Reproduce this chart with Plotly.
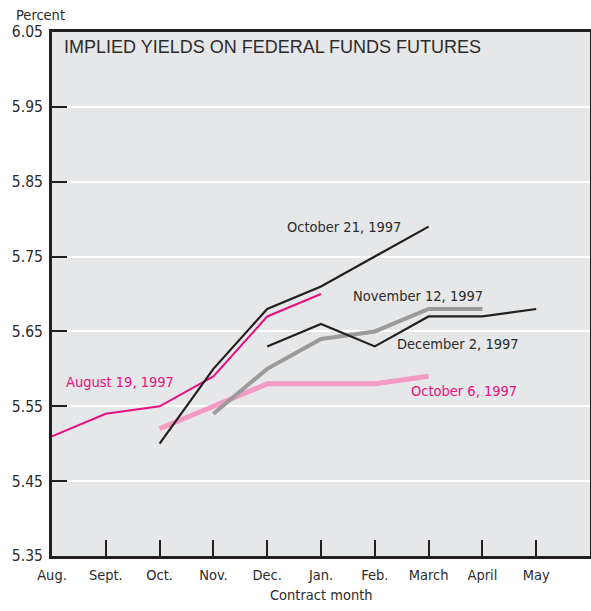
import plotly.graph_objects as go

months = ["Aug.", "Sept.", "Oct.", "Nov.", "Dec.", "Jan.", "Feb.", "March", "April", "May"]
month_pos = list(range(len(months)))

aug19_x = ["Aug.", "Sept.", "Oct.", "Nov.", "Dec.", "Jan."]
aug19_y = [5.51, 5.54, 5.55, 5.59, 5.67, 5.70]

oct6_x = ["Oct.", "Nov.", "Dec.", "Jan.", "Feb.", "March"]
oct6_y = [5.52, 5.55, 5.58, 5.58, 5.58, 5.59]

oct21_x = ["Oct.", "Nov.", "Dec.", "Jan.", "Feb.", "March"]
oct21_y = [5.50, 5.60, 5.68, 5.71, 5.75, 5.79]

nov12_x = ["Nov.", "Dec.", "Jan.", "Feb.", "March", "April"]
nov12_y = [5.54, 5.60, 5.64, 5.65, 5.68, 5.68]

dec2_x = ["Dec.", "Jan.", "Feb.", "March", "April", "May"]
dec2_y = [5.63, 5.66, 5.63, 5.67, 5.67, 5.68]

y_ticks = [5.35, 5.45, 5.55, 5.65, 5.75, 5.85, 5.95, 6.05]

idx = {m: i for i, m in enumerate(months)}

MAGENTA = "#e5127f"
PINK = "#f39bc3"
GREY = "#9a9a9a"
BLACK = "#231f20"
TXT = "#2b2b2b"
FONT = "DejaVu Sans Condensed, Liberation Sans Narrow, Arial Narrow, sans-serif"
FS = 14.5

series = [
    (aug19_x, aug19_y, MAGENTA, 2),
    (oct6_x, oct6_y, PINK, 5),
    (nov12_x, nov12_y, GREY, 4),
    (oct21_x, oct21_y, BLACK, 2.2),
    (dec2_x, dec2_y, BLACK, 2.2),
]

fig = go.Figure()
for xs, ys, col, w in series:
    fig.add_trace(go.Scatter(
        x=[idx[m] for m in xs], y=ys, mode="lines",
        line=dict(color=col, width=w), showlegend=False, hoverinfo="skip"))

labels = [
    ("August 19, 1997", 1.26, 5.582, MAGENTA),
    ("October 21, 1997", 5.42, 5.789, TXT),
    ("November 12, 1997", 6.80, 5.697, TXT),
    ("December 2, 1997", 7.55, 5.633, TXT),
    ("October 6, 1997", 7.66, 5.570, MAGENTA),
]
for t, x, y, c in labels:
    fig.add_annotation(x=x, y=y, xref="x", yref="y", text=t, showarrow=False,
                       font=dict(family=FONT, size=FS, color=c))

# title inside the plot, left at x=62px, centred at y=47px
fig.add_annotation(x=10 / 538, y=1 - 15 / 524, xref="paper", yref="paper",
                   xanchor="left", yanchor="middle",
                   text="IMPLIED YIELDS ON FEDERAL FUNDS FUTURES", showarrow=False,
                   font=dict(family="Liberation Sans, Arial, sans-serif", size=18, color=TXT))
fig.add_annotation(x=-38 / 538, y=1, xref="paper", yref="paper", xanchor="left", yanchor="middle",
                   yshift=17, text="Percent", showarrow=False,
                   font=dict(family=FONT, size=FS, color=TXT))
fig.add_annotation(x=0.5, y=0, xref="paper", yref="paper", xanchor="center", yanchor="middle",
                   yshift=-39, text="Contract month", showarrow=False,
                   font=dict(family=FONT, size=FS, color=TXT))

fig.update_xaxes(range=[0, 10], tickmode="array", tickvals=month_pos, ticktext=months,
                 ticks="inside", ticklen=16, tickwidth=2, tickcolor=BLACK,
                 showline=True, linecolor=BLACK, linewidth=3, mirror=True,
                 showgrid=False, zeroline=False, automargin=False,
                 ticklabelstandoff=4,
                 tickfont=dict(family=FONT, size=FS, color=TXT))
fig.update_yaxes(range=[5.35, 6.05], tickmode="array", tickvals=y_ticks,
                 ticktext=[f"{v:.2f}" for v in y_ticks],
                 ticks="inside", ticklen=15, tickwidth=2, tickcolor=BLACK,
                 showline=True, linecolor=BLACK, linewidth=3, mirror=True,
                 showgrid=True, gridcolor="white", gridwidth=2, zeroline=False,
                 automargin=False, ticklabelstandoff=3,
                 tickfont=dict(family=FONT, size=15.5, color=TXT))

fig.update_layout(width=591, height=611, margin=dict(l=52, r=1, t=32, b=55),
                  plot_bgcolor="#e6e7e8", paper_bgcolor="white",
                  font=dict(family=FONT, color=TXT))

fig.write_html("out.html", config={"displayModeBar": False},
               post_script="document.body.style.margin='0';document.body.style.overflow='hidden';")
